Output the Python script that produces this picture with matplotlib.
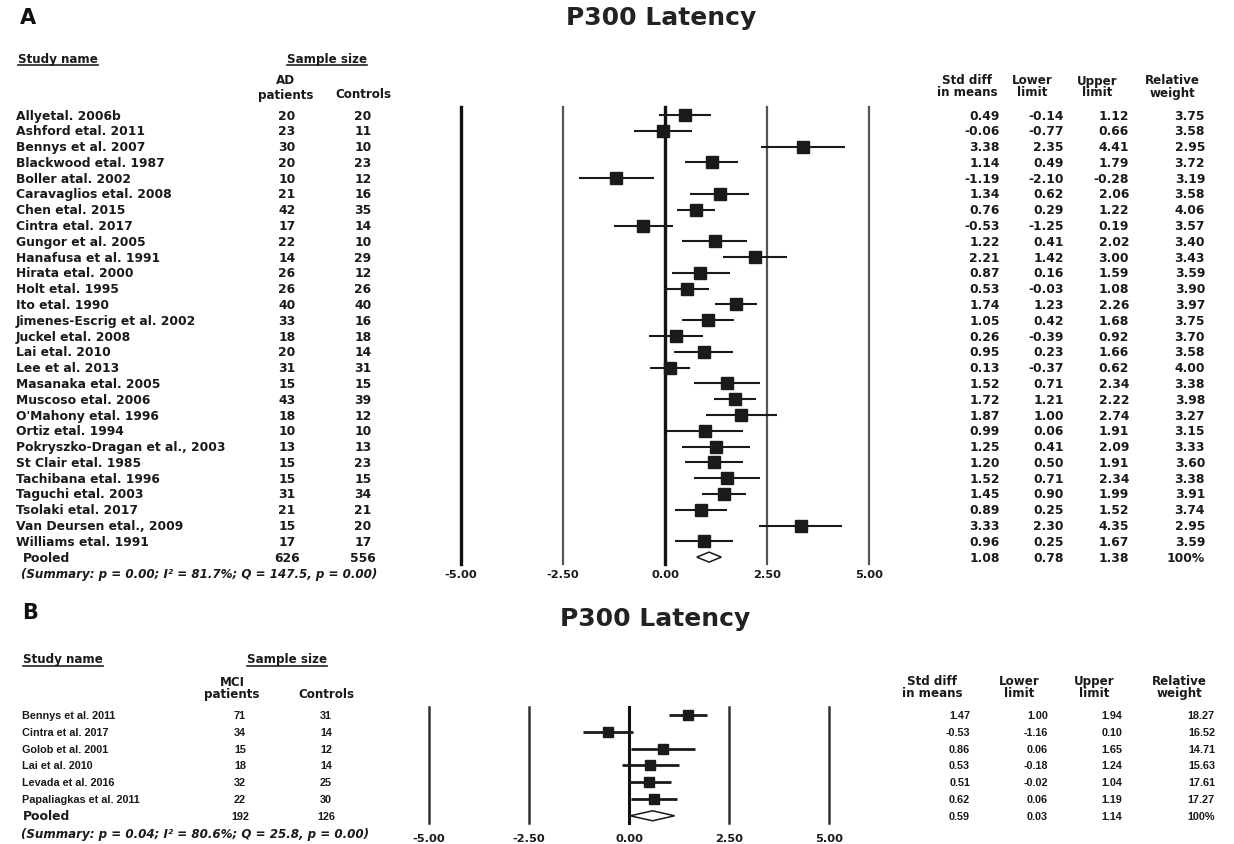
import matplotlib
matplotlib.use("Agg")
import matplotlib.pyplot as plt
import matplotlib.transforms as mtransforms
from matplotlib.lines import Line2D
from matplotlib.patches import Polygon

# ---------------- data: panel A (AD vs controls) ----------------
a_names = ["Allyetal. 2006b", "Ashford etal. 2011", "Bennys et al. 2007", "Blackwood etal. 1987",
           "Boller atal. 2002", "Caravaglios etal. 2008", "Chen etal. 2015", "Cintra etal. 2017",
           "Gungor et al. 2005", "Hanafusa et al. 1991", "Hirata etal. 2000", "Holt etal. 1995",
           "Ito etal. 1990", "Jimenes-Escrig et al. 2002", "Juckel etal. 2008", "Lai etal. 2010",
           "Lee et al. 2013", "Masanaka etal. 2005", "Muscoso etal. 2006", "O'Mahony etal. 1996",
           "Ortiz etal. 1994", "Pokryszko-Dragan et al., 2003", "St Clair etal. 1985",
           "Tachibana etal. 1996", "Taguchi etal. 2003", "Tsolaki etal. 2017",
           "Van Deursen etal., 2009", "Williams etal. 1991"]
a_pat = [20, 23, 30, 20, 10, 21, 42, 17, 22, 14, 26, 26, 40, 33, 18, 20, 31, 15, 43, 18, 10, 13, 15, 15, 31, 21, 15, 17]
a_ctl = [20, 11, 10, 23, 12, 16, 35, 14, 10, 29, 12, 26, 40, 16, 18, 14, 31, 15, 39, 12, 10, 13, 23, 15, 34, 21, 20, 17]
a_smd = [0.49, -0.06, 3.38, 1.14, -1.19, 1.34, 0.76, -0.53, 1.22, 2.21, 0.87, 0.53, 1.74, 1.05,
         0.26, 0.95, 0.13, 1.52, 1.72, 1.87, 0.99, 1.25, 1.20, 1.52, 1.45, 0.89, 3.33, 0.96]
a_lo = [-0.14, -0.77, 2.35, 0.49, -2.10, 0.62, 0.29, -1.25, 0.41, 1.42, 0.16, -0.03, 1.23, 0.42,
        -0.39, 0.23, -0.37, 0.71, 1.21, 1.00, 0.06, 0.41, 0.50, 0.71, 0.90, 0.25, 2.30, 0.25]
a_hi = [1.12, 0.66, 4.41, 1.79, -0.28, 2.06, 1.22, 0.19, 2.02, 3.00, 1.59, 1.08, 2.26, 1.68,
        0.92, 1.66, 0.62, 2.34, 2.22, 2.74, 1.91, 2.09, 1.91, 2.34, 1.99, 1.52, 4.35, 1.67]
a_w = [3.75, 3.58, 2.95, 3.72, 3.19, 3.58, 4.06, 3.57, 3.40, 3.43, 3.59, 3.90, 3.97, 3.75,
       3.70, 3.58, 4.00, 3.38, 3.98, 3.27, 3.15, 3.33, 3.60, 3.38, 3.91, 3.74, 2.95, 3.59]
a_pooled = (1.08, 0.78, 1.38)
a_summary = "(Summary: p = 0.00; I² = 81.7%; Q = 147.5, p = 0.00)"

# ---------------- data: panel B (MCI vs controls) ----------------
b_names = ["Bennys et al. 2011", "Cintra et al. 2017", "Golob et al. 2001", "Lai et al. 2010",
           "Levada et al. 2016", "Papaliagkas et al. 2011"]
b_pat = [71, 34, 15, 18, 32, 22]
b_ctl = [31, 14, 12, 14, 25, 30]
b_smd = [1.47, -0.53, 0.86, 0.53, 0.51, 0.62]
b_lo = [1.00, -1.16, 0.06, -0.18, -0.02, 0.06]
b_hi = [1.94, 0.10, 1.65, 1.24, 1.04, 1.19]
b_w = [18.27, 16.52, 14.71, 15.63, 17.61, 17.27]
b_pooled = (0.59, 0.03, 1.14)
b_summary = "(Summary: p = 0.04; I² = 80.6%; Q = 25.8, p = 0.00)"

ticks = [-5.0, -2.5, 0.0, 2.5, 5.0]
tick_labels = ["-5.00", "-2.50", "0.00", "2.50", "5.00"]
title = "P300 Latency"

# ---------------- figure ----------------
W, H = 1234, 845
fig = plt.figure(figsize=(W / 100, H / 100), dpi=100)
fig.patch.set_facecolor("white")
P = mtransforms.Affine2D().scale(1 / W, -1 / H).translate(0, 1) + fig.transFigure

FA = dict(family="DejaVu Sans", weight="bold", size=8.9, color="#1a1a1a")
FH = dict(family="DejaVu Sans", weight="bold", size=8.6, color="#1a1a1a")
FB = dict(family="Liberation Sans", weight="bold", size=7.8, color="#1a1a1a")
FT = dict(family="DejaVu Sans", weight="bold", size=8.2, color="#1a1a1a")
FS = dict(family="DejaVu Sans", weight="bold", style="italic", size=8.6, color="#1a1a1a")

underlined = []


def forest_axes(x_m5, x_p5, y_top, y_bot, row0, step):
    ax = fig.add_axes([x_m5 / W, 1 - y_bot / H, (x_p5 - x_m5) / W, (y_bot - y_top) / H])
    ax.set_xlim(-5, 5)
    ax.set_ylim((y_bot - row0) / step, (y_top - row0) / step)
    ax.axis("off")
    return ax


def draw_panel(ax, rows_font, names, pat, ctl, smd, lo, hi, w, pooled, summary,
               step, cols, ms, ci_lw, line_styles, tick_y):
    n = len(names)
    rows = list(range(n))
    prow = n
    for t, (lw, col) in zip(ticks, line_styles):
        ax.axvline(t, color=col, lw=lw, clip_on=False, zorder=1)
    ax.hlines(rows, lo, hi, color="#1a1a1a", lw=ci_lw, zorder=2)
    ax.plot(smd, rows, "s", ms=ms, color="#1a1a1a", zorder=3, clip_on=False)
    m, l, h = pooled
    dh = 5.0 / step
    ax.add_patch(Polygon([[l, prow], [m, prow - dh], [h, prow], [m, prow + dh]],
                         closed=True, facecolor="white", edgecolor="#1a1a1a", lw=1.1, zorder=3))
    tr_tick = mtransforms.blended_transform_factory(ax.transData, P)
    for t, lab in zip(ticks, tick_labels):
        ax.text(t, tick_y, lab, transform=tr_tick, ha="center", va="center", **FT)

    trow = mtransforms.blended_transform_factory(P, ax.transData)
    for i in rows:
        ax.text(cols["name"], i, names[i], transform=trow, ha="left", va="center", **rows_font)
        ax.text(cols["pat"], i, str(pat[i]), transform=trow, ha="center", va="center", **rows_font)
        ax.text(cols["ctl"], i, str(ctl[i]), transform=trow, ha="center", va="center", **rows_font)
        ax.text(cols["smd"], i, f"{smd[i]:.2f}", transform=trow, ha="right", va="center", **rows_font)
        ax.text(cols["lo"], i, f"{lo[i]:.2f}", transform=trow, ha="right", va="center", **rows_font)
        ax.text(cols["hi"], i, f"{hi[i]:.2f}", transform=trow, ha="right", va="center", **rows_font)
        ax.text(cols["w"], i, f"{w[i]:.2f}", transform=trow, ha="right", va="center", **rows_font)
    ax.text(cols["pooled"], prow, "Pooled", transform=trow, ha="left", va="center", **FA)
    ax.text(cols["pat"], prow, str(sum(pat)), transform=trow, ha="center", va="center", **rows_font)
    ax.text(cols["ctl"], prow, str(sum(ctl)), transform=trow, ha="center", va="center", **rows_font)
    ax.text(cols["smd"], prow, f"{m:.2f}", transform=trow, ha="right", va="center", **rows_font)
    ax.text(cols["lo"], prow, f"{l:.2f}", transform=trow, ha="right", va="center", **rows_font)
    ax.text(cols["hi"], prow, f"{h:.2f}", transform=trow, ha="right", va="center", **rows_font)
    ax.text(cols["w"], prow, "100%", transform=trow, ha="right", va="center", **rows_font)
    ax.text(cols["pooled"] - 2, prow + 1.05, summary, transform=trow, ha="left", va="center", **FS)


def headers(letter_xy, title_xy, study_xy, sample_xy, pat_lab, pat_x, ctl_x, y1, y2,
            right_cols, ry1, ry2):
    fig.text(*letter_xy[:2], letter_xy[2], transform=P, ha="left", va="center",
             family="DejaVu Sans", weight="bold", size=15, color="#111")
    fig.text(*title_xy, title, transform=P, ha="center", va="center",
             family="DejaVu Sans", weight="bold", size=18, color="#222")
    underlined.append(fig.text(*study_xy, "Study name", transform=P, ha="left", va="center", **FH))
    underlined.append(fig.text(*sample_xy, "Sample size", transform=P, ha="center", va="center", **FH))
    fig.text(pat_x, y1, pat_lab, transform=P, ha="center", va="center", **FH)
    fig.text(pat_x, y2, "patients", transform=P, ha="center", va="center", **FH)
    fig.text(ctl_x, y2, "Controls", transform=P, ha="center", va="center", **FH)
    for x, (l1, l2) in zip(right_cols, [("Std diff", "in means"), ("Lower", "limit"),
                                        ("Upper", "limit"), ("Relative", "weight")]):
        fig.text(x, ry1, l1, transform=P, ha="center", va="center", **FH)
        fig.text(x, ry2, l2, transform=P, ha="center", va="center", **FH)


# ---------------- panel A ----------------
stepA = 15.79
axA = forest_axes(461, 869, 108, 565, 116, stepA)
stylesA = [(2.4, "#111"), (1.6, "#555"), (2.4, "#111"), (1.6, "#555"), (1.6, "#555")]
draw_panel(axA, FA, a_names, a_pat, a_ctl, a_smd, a_lo, a_hi, a_w, a_pooled, a_summary,
           stepA, dict(name=16, pat=287, ctl=363, smd=1000, lo=1064, hi=1129, w=1205, pooled=23),
           ms=8.6, ci_lw=1.5, line_styles=stylesA, tick_y=575)
headers((20, 18, "A"), (661, 18), (18, 59), (327, 59), "AD", 286, 363, 81, 95,
        [967, 1032, 1097, 1172], 81, 93)

# ---------------- panel B ----------------
stepB = 16.8
axB = forest_axes(429, 829, 708, 824, 716, stepB)
stylesB = [(1.8, "#333"), (1.8, "#333"), (2.2, "#111"), (1.8, "#333"), (1.8, "#333")]
draw_panel(axB, FB, b_names, b_pat, b_ctl, b_smd, b_lo, b_hi, b_w, b_pooled, b_summary,
           stepB, dict(name=22, pat=240, ctl=326, smd=970, lo=1048, hi=1122, w=1215, pooled=23),
           ms=7.6, ci_lw=2.0, line_styles=stylesB, tick_y=839)
headers((22, 613, "B"), (655, 619), (23, 660), (287, 660), "MCI", 232, 326, 683, 695,
        [932, 1019, 1094, 1179], 682, 694)

# underlines for "Study name" / "Sample size"
fig.canvas.draw()
r = fig.canvas.get_renderer()
for t in underlined:
    bb = t.get_window_extent(r)
    y = H - bb.y0 + 0.5
    fig.add_artist(Line2D([bb.x0, bb.x1], [y, y], transform=P, color="#222", lw=1.2))

fig.savefig("out.png", dpi=100, facecolor="white")
